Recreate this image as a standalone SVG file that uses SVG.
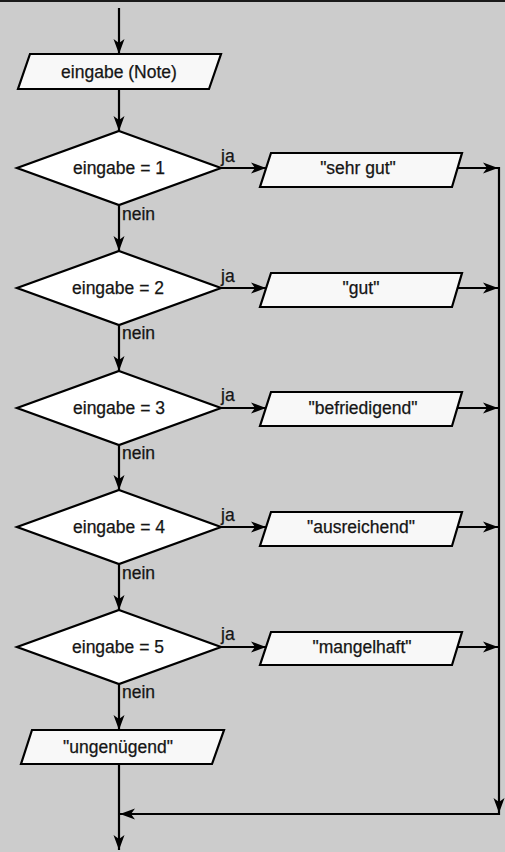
<svg xmlns="http://www.w3.org/2000/svg" width="505" height="852" viewBox="0 0 505 852">
  <style>
    .bg { fill: #cccccc; }
    .io { fill: #f8f8f8; stroke: #000; stroke-width: 2.2; stroke-linejoin: miter; }
    .dec { fill: #ffffff; stroke: #000; stroke-width: 2.2; stroke-linejoin: miter; }
    .lbl { font-family: "Liberation Sans", Arial, Helvetica, sans-serif; font-size: 17.5px; fill: #151515; stroke: #151515; stroke-width: 0.25; text-anchor: middle; }
    .tag { font-family: "Liberation Sans", Arial, Helvetica, sans-serif; font-size: 17.5px; fill: #151515; stroke: #151515; stroke-width: 0.25; }
    .edge { fill: none; stroke: #000; stroke-width: 2.2; }
  </style>
  <defs>
    <marker id="arrow" markerUnits="userSpaceOnUse" markerWidth="18" markerHeight="14" viewBox="-16 -7 18 14" refX="0" refY="0" orient="auto">
      <path d="M0,0 L-15,-5.5 L-11,0 L-15,5.5 Z" fill="#000"/>
    </marker>
  </defs>

  <rect class="bg" x="0" y="0" width="505" height="852"/>
  <line x1="0" y1="1" x2="505" y2="1" stroke="#1a1a1a" stroke-width="2"/>

  <!-- connectors -->
  <g id="connectors">
    <line class="edge" x1="119" y1="8" x2="119" y2="54" marker-end="url(#arrow)"/>
    <line class="edge" x1="119" y1="89" x2="119" y2="131" marker-end="url(#arrow)"/>

    <line class="edge" x1="119" y1="205" x2="119" y2="251" marker-end="url(#arrow)"/>
    <line class="edge" x1="119" y1="325" x2="119" y2="371" marker-end="url(#arrow)"/>
    <line class="edge" x1="119" y1="445" x2="119" y2="490" marker-end="url(#arrow)"/>
    <line class="edge" x1="119" y1="564" x2="119" y2="610" marker-end="url(#arrow)"/>
    <line class="edge" x1="119" y1="684" x2="119" y2="730" marker-end="url(#arrow)"/>

    <line class="edge" x1="221" y1="168" x2="266" y2="168" marker-end="url(#arrow)"/>
    <line class="edge" x1="221" y1="288" x2="266" y2="288" marker-end="url(#arrow)"/>
    <line class="edge" x1="221" y1="408" x2="266" y2="408" marker-end="url(#arrow)"/>
    <line class="edge" x1="221" y1="527" x2="266" y2="527" marker-end="url(#arrow)"/>
    <line class="edge" x1="221" y1="647" x2="266" y2="647" marker-end="url(#arrow)"/>

    <line class="edge" x1="457" y1="168" x2="498" y2="168" marker-end="url(#arrow)"/>
    <line class="edge" x1="457" y1="288" x2="498" y2="288" marker-end="url(#arrow)"/>
    <line class="edge" x1="457" y1="408" x2="498" y2="408" marker-end="url(#arrow)"/>
    <line class="edge" x1="457" y1="527" x2="498" y2="527" marker-end="url(#arrow)"/>
    <line class="edge" x1="457" y1="647" x2="498" y2="647" marker-end="url(#arrow)"/>

    <line class="edge" x1="499" y1="167" x2="499" y2="813" marker-end="url(#arrow)"/>
    <polyline class="edge" points="499,813 499,814 120,814" marker-end="url(#arrow)"/>
    <line class="edge" x1="119" y1="764" x2="119" y2="850" marker-end="url(#arrow)"/>

    <text class="tag" x="221" y="162">ja</text>
    <text class="tag" x="221" y="282">ja</text>
    <text class="tag" x="221" y="401">ja</text>
    <text class="tag" x="221" y="521">ja</text>
    <text class="tag" x="221" y="640">ja</text>

    <text class="tag" x="122" y="220">nein</text>
    <text class="tag" x="122" y="339">nein</text>
    <text class="tag" x="122" y="459">nein</text>
    <text class="tag" x="122" y="579">nein</text>
    <text class="tag" x="122" y="698">nein</text>
  </g>

  <!-- input -->
  <g id="input">
    <polygon class="io" points="30,54 221,54 209,89 18,89"/>
    <text class="lbl" x="119" y="78">eingabe (Note)</text>
  </g>

  <!-- decisions -->
  <g id="dec1">
    <polygon class="dec" points="119,131 221,168 119,205 17,168"/>
    <text class="lbl" x="119" y="174">eingabe = 1</text>
  </g>
  <g id="dec2">
    <polygon class="dec" points="119,251 221,288 119,325 17,288"/>
    <text class="lbl" x="118" y="294">eingabe = 2</text>
  </g>
  <g id="dec3">
    <polygon class="dec" points="119,371 221,408 119,445 17,408"/>
    <text class="lbl" x="119" y="414">eingabe = 3</text>
  </g>
  <g id="dec4">
    <polygon class="dec" points="119,490 221,527 119,564 17,527"/>
    <text class="lbl" x="119" y="533">eingabe = 4</text>
  </g>
  <g id="dec5">
    <polygon class="dec" points="119,610 221,647 119,684 17,647"/>
    <text class="lbl" x="118" y="653">eingabe = 5</text>
  </g>

  <!-- outputs -->
  <g id="out1">
    <polygon class="io" points="271,153 462,153 452,187 260,187"/>
    <text class="lbl" x="358" y="174">"sehr gut"</text>
  </g>
  <g id="out2">
    <polygon class="io" points="271,273 462,273 452,307 260,307"/>
    <text class="lbl" x="361" y="294">"gut"</text>
  </g>
  <g id="out3">
    <polygon class="io" points="271,392 462,392 452,426 260,426"/>
    <text class="lbl" x="363" y="414">"befriedigend"</text>
  </g>
  <g id="out4">
    <polygon class="io" points="271,512 462,512 452,546 260,546"/>
    <text class="lbl" x="361" y="533">"ausreichend"</text>
  </g>
  <g id="out5">
    <polygon class="io" points="271,632 462,632 452,665 260,665"/>
    <text class="lbl" x="362" y="653">"mangelhaft"</text>
  </g>
  <g id="out6">
    <polygon class="io" points="32,730 224,730 212,764 21,764"/>
    <text class="lbl" x="118" y="753">"ungenügend"</text>
  </g>
</svg>
